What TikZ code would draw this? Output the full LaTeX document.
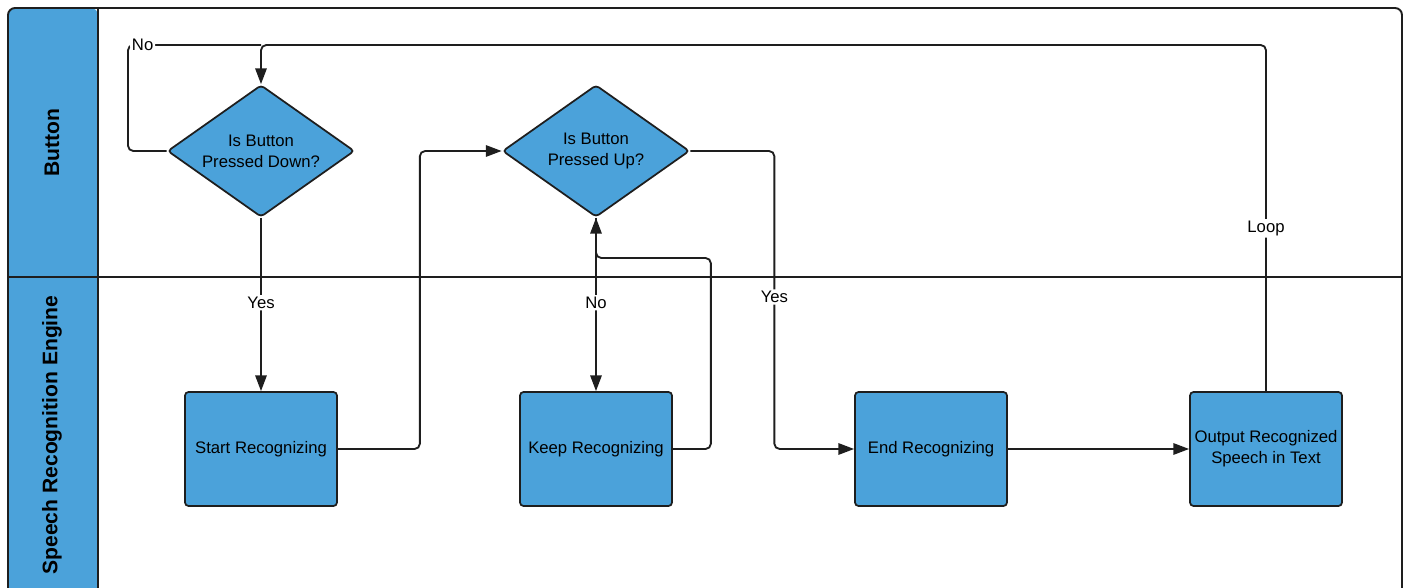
\documentclass[tikz,border=0pt]{standalone}
\usepackage{fontspec}
\setmainfont{Liberation Sans}
\usepackage{tikz}
\usetikzlibrary{shapes.geometric,arrows.meta,calc,positioning}

\definecolor{laneblue}{RGB}{75,162,218}
\definecolor{inkdark}{RGB}{30,30,30}

\begin{document}
\begin{tikzpicture}[x=0.02cm,y=-0.02cm,
	font=\fontsize{9.5}{12}\selectfont,
	box/.style={draw=inkdark,fill=laneblue,line width=1pt,rounded corners=2pt,
		minimum width=3.04cm,minimum height=2.28cm,align=center,inner sep=1pt},
	decision/.style={draw=inkdark,fill=laneblue,line width=1pt,diamond,aspect=1.417,
		rounded corners=2pt,minimum width=3.74cm,minimum height=2.64cm,align=center,inner sep=1pt},
	lanelabel/.style={rotate=90,font=\fontsize{12}{14}\selectfont\bfseries},
	line/.style={draw=inkdark,line width=1.05pt,rounded corners=3pt},
	arrow/.style={line,-{Triangle[length=9pt,width=6.5pt]}},
	lbl/.style={fill=white,inner sep=1pt}]
	\useasboundingbox (0,0) rectangle (1407,588);

	% swimlanes
	\fill[laneblue,rounded corners=4pt] (8,588) |- (98,8) [sharp corners] -- (98,588) -- cycle;
	\draw[inkdark,line width=1.1pt,rounded corners=4pt] (8,588) -- (8,8) -- (1402,8) -- (1402,588);
	\draw[inkdark,line width=1.1pt] (98,8) -- (98,588);
	\draw[inkdark,line width=1.1pt] (8,277) -- (1402,277);
	\node[lanelabel] (lane1) at (52,143) {Button};
	\node[lanelabel] (lane2) at (52,435) {Speech Recognition Engine};

	% steps
	\node[decision] (isdown) at (261,151) {Is Button\\Pressed Down?};
	\node[decision] (isup) at (596,151) {Is Button\\Pressed Up?};
	\node[box] (start) at (261,449) {Start Recognizing};
	\node[box] (keep) at (596,449) {Keep Recognizing};
	\node[box] (end) at (931,449) {End Recognizing};
	\node[box] (output) at (1266,449) {Output Recognized\\Speech in Text};

	\coordinate (top) at (261,45);

	% connectors
	\draw[line] (isdown.west) -| (128,45) -- node[lbl,pos=0.11] {No} (top);
	\draw[arrow] (output.north) -- node[lbl,pos=0.47] {Loop} (output.north |- top) -- (top) -- (isdown.north);
	\draw[arrow] (isdown) -- node[lbl,pos=0.49] {Yes} (start);
	\draw[arrow] (start.east) -- ++(82,0) |- (isup.west);
	\draw[arrow] (isup) -- node[lbl,pos=0.49] {No} (keep);
	\draw[arrow] (keep.east) -- ++(38,0) -- ++(0,-191) -| (isup.south);
	\draw[arrow] (isup.east) -- ++(84,0) -- node[lbl,pos=0.49] {Yes} ++(0,298) -- (end.west);
	\draw[arrow] (end) -- (output);
\end{tikzpicture}
\end{document}
